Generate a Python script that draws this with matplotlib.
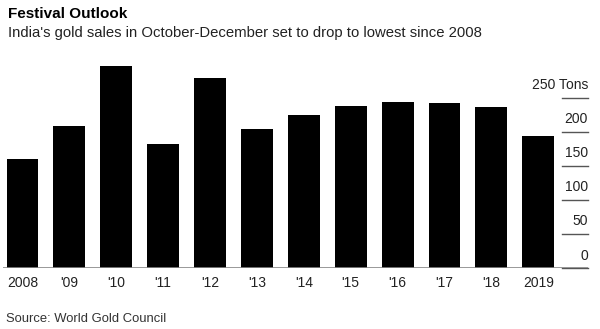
import matplotlib.pyplot as plt

plt.rcParams['font.family'] = ['Liberation Sans', 'DejaVu Sans']

years = ['2008', "'09", "'10", "'11", "'12", "'13", "'14", "'15", "'16", "'17", "'18", '2019']
sales = [160, 208, 296, 182, 278, 204, 225, 237, 243, 242, 236, 194]
yticks = [0, 50, 100, 150, 200, 250]


def main():
    fig = plt.figure(figsize=(6, 3.29), dpi=100)
    ax = fig.add_axes([0.005, 0.1854, 0.975, 0.6322])

    x = list(range(len(years)))
    ax.bar(x, sales, width=0.68, color='black', zorder=2)
    ax.set_xlim(-0.416, 12.06)
    ax.set_ylim(0, 305)

    # tick labels sit on the right with short rules under them
    for v in yticks:
        ax.plot([11.5, 12.06], [v, v], color='#555555', lw=1.0, clip_on=False)
        label = f'{v}' if v != 250 else '250 Tons'
        ax.text(12.06, v + 8, label, ha='right', va='bottom', fontsize=10,
                color='#222222')
    ax.plot([-0.416, 12.06], [0, 0], color='#888888', lw=1.2, zorder=3)

    ax.set_xticks(x)
    ax.set_xticklabels(years, fontsize=10, color='#222222')
    ax.tick_params(axis='x', length=0, pad=6)
    ax.set_yticks([])
    for s in ax.spines.values():
        s.set_visible(False)

    fig.text(0.014, 0.945, 'Festival Outlook', fontsize=11, fontweight='bold',
             ha='left', va='baseline', color='black')
    fig.text(0.014, 0.887, "India's gold sales in October-December set to drop to lowest since 2008",
             fontsize=10.7, ha='left', va='baseline', color='#222222')
    fig.text(0.01, 0.022, 'Source: World Gold Council', fontsize=9.4,
             ha='left', va='baseline', color='#333333')

    fig.savefig('out.png', dpi=100)


if __name__ == "__main__":
    main()
